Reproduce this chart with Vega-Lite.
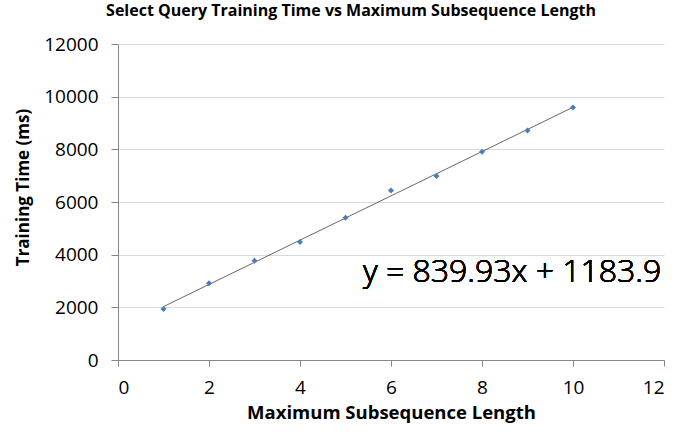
{
  "$schema": "https://vega.github.io/schema/vega-lite/v6.json",
  "width": 546,
  "height": 316,
  "autosize": {"type": "none"},
  "padding": {"left": 118, "top": 44, "right": 25, "bottom": 73},
  "background": "white",
  "config": {"view": {"stroke": null}, "font": "Open Sans"},
  "title": {
    "text": "Select Query Training Time vs Maximum Subsequence Length",
    "font": "Open Sans",
    "fontSize": 16,
    "fontWeight": "bold",
    "color": "#000000",
    "anchor": "middle",
    "offset": 16,
    "dx": -40
  },
  "data": {
    "values": [
      {"len": 1, "time": 1935},
      {"len": 2, "time": 2911},
      {"len": 3, "time": 3768},
      {"len": 4, "time": 4478},
      {"len": 5, "time": 5400},
      {"len": 6, "time": 6440},
      {"len": 7, "time": 6983},
      {"len": 8, "time": 7905},
      {"len": 9, "time": 8717},
      {"len": 10, "time": 9590}
    ]
  },
  "layer": [
    {
      "transform": [{"regression": "time", "on": "len"}],
      "mark": {"type": "line", "color": "#404040", "strokeWidth": 0.8},
      "encoding": {
        "x": {"field": "len", "type": "quantitative"},
        "y": {"field": "time", "type": "quantitative"}
      }
    },
    {
      "mark": {"type": "point", "shape": "diamond", "filled": true, "color": "#4a7ebb", "size": 36, "opacity": 1},
      "encoding": {
        "x": {
          "field": "len",
          "type": "quantitative",
          "title": "Maximum Subsequence Length",
          "scale": {"domain": [0, 12], "nice": false},
          "axis": {
            "values": [0, 2, 4, 6, 8, 10, 12],
            "format": "d",
            "grid": false,
            "domainColor": "#868686",
            "tickColor": "#868686",
            "tickSize": 6,
            "labelFontSize": 19,
            "labelColor": "#000000",
            "labelFont": "Open Sans",
            "labelPadding": 12,
            "titleFontSize": 18.5,
            "titleFontWeight": "bold",
            "titleColor": "#000000",
            "titleFont": "Open Sans",
            "titlePadding": 6
          }
        },
        "y": {
          "field": "time",
          "type": "quantitative",
          "title": "Training Time (ms)",
          "scale": {"domain": [0, 12000], "nice": false},
          "axis": {
            "values": [0, 2000, 4000, 6000, 8000, 10000, 12000],
            "format": "d",
            "grid": true,
            "gridColor": "#d9d9d9",
            "domainColor": "#868686",
            "tickColor": "#868686",
            "tickSize": 7,
            "labelFontSize": 19,
            "labelColor": "#000000",
            "labelFont": "Open Sans",
            "labelPadding": 13,
            "titleFontSize": 17,
            "titleFontWeight": "bold",
            "titleColor": "#000000",
            "titleFont": "Open Sans",
            "titleX": -86,
            "titleY": 143
          }
        }
      }
    },
    {
      "mark": {"type": "text", "fontSize": 32, "fontWeight": 300, "font": "Open Sans", "fill": "#000000", "stroke": null, "align": "center", "baseline": "alphabetic"},
      "encoding": {
        "x": {"datum": 8.66},
        "y": {"datum": 2960},
        "text": {"value": "y = 839.93x + 1183.9"}
      }
    }
  ]
}
